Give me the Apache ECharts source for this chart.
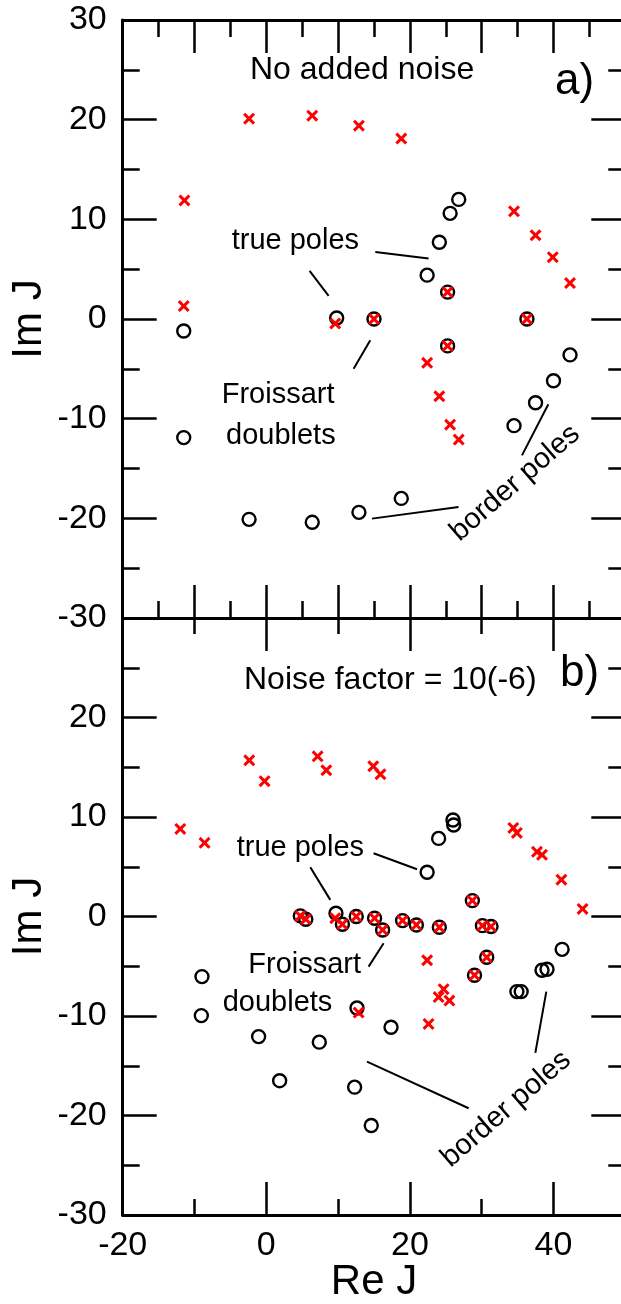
<!DOCTYPE html>
<html><head><meta charset="utf-8">
<script src="https://cdn.jsdelivr.net/npm/echarts@6/dist/echarts.min.js"></script>
<style>html,body{margin:0;padding:0;background:#fff}#c{width:621px;height:1304px}</style>
</head><body><div id="c"></div>
<script>
// ---------- data (Re J, Im J) ----------
// Panel a: no added noise
const polesA = [
  [25.6,10.6],[26.8,12.0],[24.1,7.7],[22.4,4.4],[25.25,2.7],[9.8,0.1],[15.0,0],[36.3,0],[25.25,-2.7],
  [42.3,-3.6],[40.0,-6.2],[37.5,-8.4],[34.5,-10.7],[-11.5,-1.2],[-11.5,-11.9],
  [-2.4,-20.1],[6.4,-20.4],[12.9,-19.4],[18.8,-18.0]
];
const zerosA = [
  [-11.4,11.9],[-2.4,20.1],[6.4,20.4],[12.9,19.4],[18.8,18.1],[34.5,10.8],[37.5,8.4],[39.9,6.2],[42.3,3.6],
  [-11.5,1.3],[9.6,-0.45],[15.0,0],[36.3,0],[25.25,2.7],[25.25,-2.7],[22.4,-4.4],[24.1,-7.75],
  [25.6,-10.6],[26.8,-12.1]
];
// Panel b: noise factor 10(-6)
const polesB = [
  [26.0,9.7],[26.1,9.2],[24.0,7.85],[22.4,4.45],[28.7,1.6],[4.74,0.06],[5.5,-0.27],[9.7,0.33],
  [10.6,-0.78],[12.53,0.0],[15.08,-0.17],[16.2,-1.35],[18.98,-0.41],[20.9,-0.85],[24.1,-1.08],
  [30.1,-0.92],[31.3,-1.01],[30.7,-4.1],[29.0,-5.9],[41.2,-3.3],[38.4,-5.4],[39.1,-5.3],
  [34.9,-7.55],[35.5,-7.55],[-8.96,-6.04],[-9.05,-9.96],[12.63,-9.2],[17.37,-11.13],
  [-1.07,-12.07],[7.38,-12.63],[1.86,-16.5],[12.3,-17.15],[14.62,-21.0]
];
const zerosB = [
  [-2.37,15.7],[-0.24,13.6],[7.15,16.1],[8.36,14.7],[14.9,15.1],[15.9,14.3],[-11.98,8.8],[-8.6,7.4],
  [34.4,8.9],[34.9,8.4],[37.7,6.5],[38.4,6.2],[41.1,3.7],[44.05,0.76],[28.7,1.6],[4.74,0.06],[5.5,-0.27],
  [9.6,-0.17],[10.6,-0.78],[12.53,0.0],[15.08,-0.17],[16.2,-1.35],[18.98,-0.41],[20.9,-0.85],[24.1,-1.08],
  [30.1,-0.92],[31.3,-1.01],[30.7,-4.1],[29.0,-5.9],[22.4,-4.4],[24.7,-7.3],[24.0,-8.1],[25.5,-8.45],
  [22.6,-10.8],[12.86,-9.66]
];
// leader lines for annotations (data coords)
const leadersA = [
  [[15.18,6.72],[22.6,6.06]],
  [[6.03,4.82],[8.68,2.31]],
  [[14.48,-2.14],[12.16,-4.98]],
  [[14.72,-20.03],[26.78,-18.86]],
  [[39.28,-8.56],[35.61,-13.68]]
];
const leadersB = [
  [[14.94,6.36],[20.99,4.75]],
  [[6.13,4.95],[8.91,1.67]],
  [[16.34,-2.68],[14.25,-5.04]],
  [[14.02,-14.58],[28.18,-19.27]],
  [[39.0,-7.55],[37.47,-13.71]]
];
const X_MIN = -20, X_MAX = 50, Y_MIN = -30, Y_MAX = 30;

// ---------- chart ----------
const FONT = '"Liberation Sans", Arial, Helvetica, sans-serif';
const chart = echarts.init(document.getElementById('c'), null, {renderer: 'canvas'});
const LEFT = 122.7, PW = 502.6;
const AX_W = 3, TK_W = 2.5;

function xAx(grid, pos, interval, opts) {
  opts = opts || {};
  return {
    type: 'value', gridIndex: grid, position: pos, min: X_MIN, max: X_MAX, interval: interval,
    axisLine: {show: opts.line !== false, onZero: false, lineStyle: {color: '#000', width: AX_W}},
    axisTick: {show: true, inside: true, length: opts.tickLen || 33, lineStyle: {color: '#000', width: TK_W}},
    minorTick: {show: !!opts.minor, splitNumber: 2, length: 17, lineStyle: {color: '#000', width: TK_W}},
    splitLine: {show: false},
    axisLabel: {show: !!opts.labels, fontSize: 34, color: '#000', fontFamily: FONT, margin: 14,
      showMaxLabel: false, showMinLabel: true},
    name: opts.name || '', nameLocation: 'middle', nameGap: 46, nameMoveOverlap: false,
    nameTextStyle: {fontSize: 42, color: '#000', fontFamily: FONT}
  };
}
function yAx(grid, pos, opts) {
  opts = opts || {};
  return {
    type: 'value', gridIndex: grid, position: pos, min: Y_MIN, max: Y_MAX, interval: 10,
    axisLine: {show: true, onZero: false, lineStyle: {color: '#000', width: AX_W}},
    axisTick: {show: true, inside: true, length: 34, lineStyle: {color: '#000', width: TK_W}},
    minorTick: {show: true, splitNumber: 2, length: 17, lineStyle: {color: '#000', width: TK_W}},
    splitLine: {show: false},
    axisLabel: {show: !!opts.labels, fontSize: 34, color: '#000', fontFamily: FONT, margin: 16,
      showMaxLabel: opts.showMax !== false},
    name: opts.name || '', nameLocation: 'middle', nameGap: 72, nameRotate: 90, nameMoveOverlap: false,
    nameTextStyle: {fontSize: 42, color: '#000', fontFamily: FONT}
  };
}

const CROSS = 'path://M0,1.8 L1.8,0 L5,3.2 L8.2,0 L10,1.8 L6.8,5 L10,8.2 L8.2,10 L5,6.8 L1.8,10 L0,8.2 L3.2,5 Z';
function circles(data, xi, yi, leaders) {
  return {
    type: 'scatter', xAxisIndex: xi, yAxisIndex: yi, data: data, symbol: 'circle', symbolSize: 13,
    itemStyle: {color: 'rgba(0,0,0,0)', borderColor: '#000', borderWidth: 2.4, opacity: 1},
    z: 3, animation: false, silent: true,
    markLine: {
      silent: true, symbol: ['none', 'none'], animation: false,
      label: {show: false},
      lineStyle: {color: '#000', width: 2, type: 'solid'},
      data: leaders.map(l => [{coord: l[0]}, {coord: l[1]}])
    }
  };
}
function crosses(data, xi, yi) {
  return {
    type: 'scatter', xAxisIndex: xi, yAxisIndex: yi, data: data, symbol: CROSS, symbolSize: 12,
    itemStyle: {color: '#ff0000', opacity: 1}, z: 4, animation: false, silent: true
  };
}

function txt(text, x, y, size, extra) {
  return Object.assign({
    type: 'text', x: x, y: y, z: 100,
    style: {text: text, fill: '#000', font: size + 'px ' + FONT, textAlign: 'left', textVerticalAlign: 'middle'}
  }, extra || {});
}
const ROT = 41 * Math.PI / 180;

chart.setOption({
  animation: false,
  backgroundColor: '#fff',
  grid: [
    {left: LEFT, top: 20, width: PW, height: 598, containLabel: false, outerBoundsMode: 'none'},
    {left: LEFT, top: 618, width: PW, height: 597, containLabel: false, outerBoundsMode: 'none'}
  ],
  xAxis: [
    xAx(0, 'bottom', 10, {minor: true}),
    xAx(0, 'top', 10, {minor: true}),
    xAx(1, 'bottom', 20, {labels: true, name: 'Re J'}),
    xAx(1, 'bottom', 10, {line: false, tickLen: 16}),
    xAx(1, 'top', 20, {}),
    xAx(1, 'top', 10, {line: false, tickLen: 16})
  ],
  yAxis: [
    yAx(0, 'left', {labels: true, name: 'Im J'}),
    yAx(0, 'right', {}),
    yAx(1, 'left', {labels: true, name: 'Im J', showMax: false}),
    yAx(1, 'right', {})
  ],
  series: [
    circles(polesA, 0, 0, leadersA),
    crosses(zerosA, 0, 0),
    circles(polesB, 2, 2, leadersB),
    crosses(zerosB, 2, 2)
  ],
  graphic: [
    txt('No added noise', 250, 70, 32),
    txt('a)', 555, 82, 44),
    txt('true poles', 231.7, 241, 29),
    txt('Froissart', 221.7, 395, 29),
    txt('doublets', 226, 436, 29),
    {type: 'text', x: 515, y: 483, rotation: ROT, z: 100,
     style: {text: 'border poles', fill: '#000', font: '29px ' + FONT, textAlign: 'center', textVerticalAlign: 'middle'}},
    txt('Noise factor = 10(-6)', 244, 680, 32),
    txt('b)', 560, 674, 44),
    txt('true poles', 236.7, 848, 29),
    txt('Froissart', 248.3, 965, 29),
    txt('doublets', 222.7, 1003, 29),
    {type: 'text', x: 506, y: 1109, rotation: ROT, z: 100,
     style: {text: 'border poles', fill: '#000', font: '29px ' + FONT, textAlign: 'center', textVerticalAlign: 'middle'}}
  ]
});
</script>
</body></html>
